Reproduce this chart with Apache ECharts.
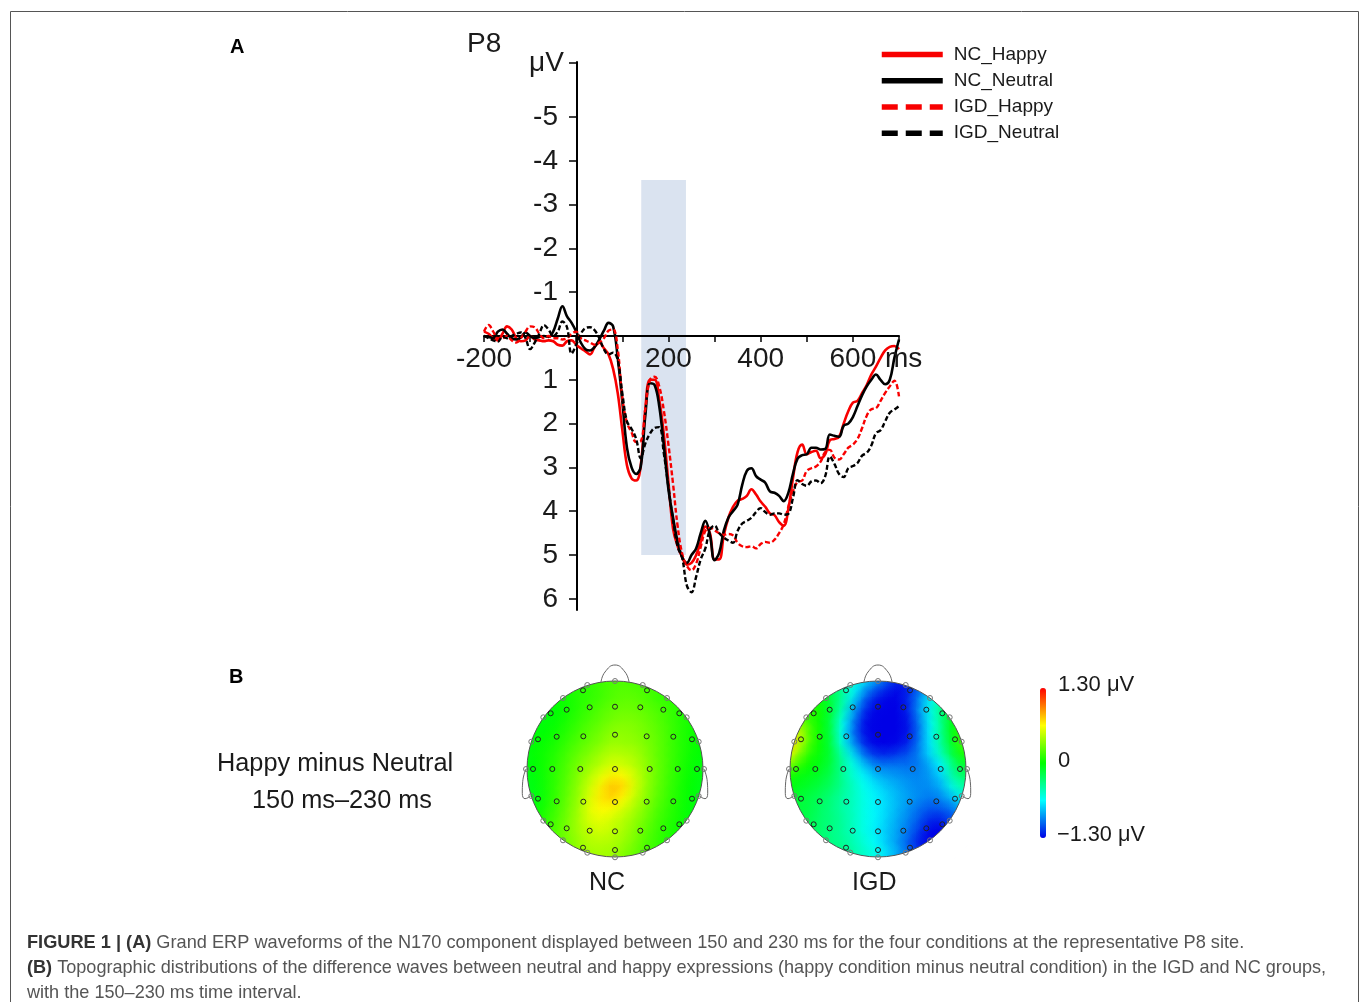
<!DOCTYPE html>
<html>
<head>
<meta charset="utf-8">
<script src="https://cdn.jsdelivr.net/npm/echarts@6/dist/echarts.min.js"></script>
<style>html,body{margin:0;padding:0;background:#fff}#c{width:1359px;height:1002px}</style>
</head>
<body>
<div id="c"></div>
<script>
const FONT = '"Liberation Sans", Arial, sans-serif';
const seriesNames = ['NC_Happy', 'NC_Neutral', 'IGD_Happy', 'IGD_Neutral'];
const startMs = -200, stepMs = 10;
const ncHappy = [-0.10,-0.05,0.05,0.10,-0.05,-0.22,-0.15,0.05,0.12,0.10,0.00,0.08,0.10,0.12,0.10,0.12,0.20,0.22,0.12,0.10,0.20,0.28,0.35,0.42,0.25,0.15,0.28,0.42,0.75,1.30,2.15,2.95,3.25,3.30,2.95,1.65,1.00,1.00,1.45,2.25,3.35,4.40,4.80,5.05,5.22,5.18,5.00,4.70,4.35,4.50,5.10,5.10,4.55,4.15,3.90,3.76,3.72,3.65,3.50,3.62,3.78,3.90,4.05,4.09,4.25,4.33,3.95,3.25,2.65,2.48,2.70,2.65,2.62,2.79,2.70,2.38,2.35,2.30,2.00,1.72,1.52,1.48,1.30,1.12,0.88,0.70,0.50,0.33,0.25,0.23,0.30];
const ncNeutral = [0.00,0.02,0.05,-0.10,-0.15,-0.05,0.05,0.08,0.03,-0.08,0.00,0.05,0.02,0.00,0.02,-0.10,-0.40,-0.68,-0.45,-0.30,-0.10,0.15,0.30,0.33,0.25,0.08,-0.12,-0.30,-0.22,0.50,1.50,2.55,3.00,3.15,2.98,1.80,1.08,1.12,1.60,2.50,3.50,4.15,4.70,5.05,5.18,5.00,4.85,4.50,4.22,4.55,5.12,4.95,4.45,4.15,4.00,3.85,3.40,3.08,3.02,3.20,3.28,3.35,3.55,3.58,3.65,3.77,3.58,3.15,2.80,2.72,2.70,2.55,2.55,2.59,2.58,2.25,2.28,2.30,2.05,2.00,1.85,1.60,1.35,1.15,1.00,0.88,1.00,1.10,1.00,0.50,0.08];
const igdHappy = [-0.10,-0.25,-0.10,0.05,0.05,0.00,0.10,0.15,0.05,-0.10,-0.22,-0.20,-0.05,0.05,0.00,0.05,0.05,0.08,0.05,-0.05,-0.10,0.05,0.10,0.15,0.20,0.15,0.05,-0.12,-0.15,0.30,1.40,1.98,2.20,2.42,2.40,1.65,1.00,0.93,1.15,1.70,2.48,3.38,4.35,4.98,5.25,5.35,5.20,4.82,4.45,4.38,4.44,4.50,4.54,4.52,4.55,4.72,4.80,4.82,4.80,4.85,4.75,4.70,4.72,4.65,4.50,4.30,3.90,3.55,3.33,3.30,3.08,3.02,2.98,2.87,2.65,2.60,2.78,2.82,2.70,2.55,2.48,2.35,2.10,1.82,1.67,1.65,1.48,1.30,1.15,1.02,1.38];
const igdNeutral = [0.00,0.05,0.10,0.13,0.02,0.05,0.00,-0.05,-0.08,0.05,0.30,0.15,-0.05,-0.25,-0.15,0.00,-0.10,-0.33,-0.20,0.40,0.20,-0.05,-0.18,-0.20,-0.13,0.05,0.30,0.42,0.38,0.55,1.31,1.95,2.12,2.35,2.79,2.45,2.23,2.10,2.08,2.68,3.45,4.20,4.81,5.08,5.70,5.85,5.50,5.10,4.85,4.42,4.33,4.50,4.60,4.67,4.72,4.45,4.28,4.22,4.15,4.02,3.93,4.02,4.08,4.05,4.05,4.08,4.06,3.70,3.29,3.38,3.42,3.32,3.30,3.36,3.20,2.75,2.92,3.15,3.22,3.02,2.97,2.90,2.73,2.67,2.50,2.22,2.15,1.95,1.75,1.68,1.60];
const seriesValues = [ncHappy, ncNeutral, igdHappy, igdNeutral];
const seriesColors = ['#f80000', '#000000', '#f80000', '#000000'];
const intervalWindow = [141, 238, -3.56, 5.0];
const xTickLabels = [-200, 200, 400, 600];
const xTicks = [-200,-100,0,100,200,300,400,500,600,700];
const yTickLabels = [-5, -4, -3, -2, -1, 1, 2, 3, 4, 5, 6];
const yTickExtra = [-6.25];
const yLimit = 6.256;

/* topographic maps: values in µV at 11-unit spacing */
const _ = null;
const topoStep = 11;
const topoCols = [-88,-77,-66,-55,-44,-33,-22,-11,0,11,22,33,44,55,66,77,88];
const topoRows = [88,77,66,55,44,33,22,11,0,-11,-22,-33,-44,-55,-66,-77,-88];
const topoNC = [
[_,_,_,_,.10,.12,.14,.16,.18,.18,.16,.14,.12,_,_,_,_],
[_,_,.02,.04,.06,.10,.12,.16,.20,.22,.20,.18,.14,.10,.08,_,_],
[_,-.02,.00,.02,.05,.10,.13,.17,.22,.24,.24,.20,.15,.12,.08,.05,_],
[_,-.03,-.02,.00,.05,.11,.16,.22,.26,.28,.27,.24,.20,.15,.10,.05,_],
[-.04,-.03,-.02,.02,.08,.14,.20,.25,.30,.32,.31,.27,.22,.16,.10,.05,.02],
[-.04,-.02,.00,.05,.11,.18,.24,.30,.36,.36,.34,.29,.24,.17,.10,.04,.02],
[-.03,.00,.03,.08,.15,.22,.28,.34,.40,.38,.37,.31,.25,.17,.10,.04,.00],
[-.03,.01,.05,.11,.19,.27,.34,.42,.47,.45,.42,.34,.25,.17,.10,.03,-.01],
[-.04,.00,.06,.13,.22,.32,.40,.48,.55,.52,.46,.36,.26,.17,.09,.02,-.03],
[-.05,-.02,.06,.14,.24,.36,.48,.60,.70,.66,.52,.38,.26,.16,.08,.01,-.04],
[-.06,-.03,.06,.15,.26,.39,.54,.70,.82,.74,.54,.37,.25,.15,.07,.00,-.05],
[-.06,-.04,.06,.16,.28,.41,.58,.72,.76,.64,.48,.35,.23,.14,.06,-.01,-.05],
[-.04,.00,.09,.18,.30,.43,.60,.66,.62,.52,.42,.31,.20,.12,.05,-.02,-.04],
[_,.03,.12,.21,.32,.44,.56,.58,.52,.45,.37,.27,.17,.10,.04,-.02,_],
[_,.06,.14,.23,.33,.43,.50,.53,.48,.42,.33,.23,.15,.08,.03,.00,_],
[_,_,.14,.23,.31,.40,.46,.46,.44,.38,.30,.20,.13,.07,.03,_,_],
[_,_,_,_,.30,.38,.42,.42,.40,.33,.26,.18,.12,_,_,_,_]
];
const topoIGD = [
[_,_,_,_,-.30,-.42,-.55,-.70,-.85,-1.05,-1.2,-1.25,-1.2,_,_,_,_],
[_,_,.02,-.08,-.22,-.42,-.62,-.90,-1.08,-1.2,-1.28,-1.2,-1.0,-.8,-.58,_,_],
[_,.18,.08,-.02,-.18,-.42,-.75,-1.08,-1.25,-1.3,-1.3,-1.18,-.92,-.62,-.38,-.15,_],
[_,.20,.12,.02,-.18,-.50,-.90,-1.2,-1.3,-1.3,-1.3,-1.2,-.88,-.60,-.28,-.05,_],
[.55,.30,.12,.00,-.22,-.62,-1.0,-1.28,-1.3,-1.3,-1.3,-1.24,-.95,-.62,-.32,-.02,.08],
[.80,.50,.18,.00,-.22,-.66,-1.05,-1.28,-1.3,-1.3,-1.3,-1.24,-.98,-.64,-.32,-.02,.15],
[.85,.50,.16,.00,-.20,-.60,-.95,-1.22,-1.3,-1.3,-1.28,-1.2,-.95,-.68,-.36,-.06,.20],
[.65,.30,.08,-.03,-.16,-.45,-.75,-1.05,-1.18,-1.2,-1.15,-1.08,-.95,-.72,-.45,-.14,.05],
[.30,.12,.00,-.06,-.18,-.40,-.60,-.82,-.98,-1.0,-1.0,-1.02,-.98,-.85,-.65,-.30,-.12],
[.05,-.03,-.07,-.12,-.22,-.38,-.55,-.68,-.82,-.88,-.92,-.95,-.96,-.90,-.75,-.42,-.25],
[-.03,-.08,-.12,-.18,-.26,-.38,-.50,-.62,-.72,-.80,-.86,-.92,-.95,-.94,-.85,-.58,-.42],
[-.10,-.14,-.18,-.24,-.32,-.42,-.50,-.60,-.68,-.76,-.84,-.90,-.96,-1.0,-.95,-.82,-.60],
[-.12,-.15,-.18,-.26,-.33,-.42,-.50,-.60,-.68,-.76,-.85,-.94,-1.04,-1.1,-1.08,-1.0,-.85],
[_,-.17,-.20,-.28,-.32,-.40,-.50,-.60,-.68,-.78,-.88,-.98,-1.1,-1.22,-1.22,-1.1,_],
[_,-.2,-.22,-.28,-.34,-.40,-.50,-.60,-.70,-.80,-.90,-1.02,-1.18,-1.3,-1.3,-1.15,_],
[_,_,-.22,-.28,-.34,-.38,-.46,-.56,-.66,-.80,-.92,-1.08,-1.25,-1.3,-1.25,_,_],
[_,_,_,_,-.30,-.35,-.44,-.52,-.60,-.74,-.88,-1.05,-1.2,_,_,_,_]
];
const topoRange = [-1.3, 1.3];
const topoColors = ['#0000e6', '#00ffff', '#00ff00', '#ffff00', '#ff0000'];
const electrodesInnerX = [-32,32,-48.3,48.3,-25.3,25.3,0,-64.3,64.3,-77,77,-58.3,58.3,-31.7,31.7,0,-82,82,-62.7,62.7,-34.7,34.7,0,-77,77,-58.3,58.3,-31.7,31.7,0,-64.3,64.3,-48.3,48.3,-25.3,25.3,0,-32,32,0];
const electrodesInnerY = [78.7,78.7,59.3,59.3,61.7,61.7,62.3,55.7,55.7,29.7,29.7,32.3,32.3,32.7,32.7,34.3,0,0,0,0,0,0,0,-29.7,-29.7,-32.3,-32.3,-32.7,-32.7,-33,-55.3,-55.3,-59.3,-59.3,-61.7,-61.7,-62.3,-78.7,-78.7,-81];
const electrodesOuterX = [0,-27.7,27.7,-52,52,-71.7,71.7,-83.7,83.7,-89,89,-83.7,83.7,-71.7,71.7,-52,52,-27.7,27.7,0];
const electrodesOuterY = [88,84,84,71,71,51.7,51.7,27.3,27.3,0,0,-27,-27,-51.7,-51.7,-71.3,-71.3,-83.7,-83.7,-88.3];
const noseX = [-14,-10,0,10,14], noseY = [87,97,104,97,87];
const earX = [89,92.3,92.7,90,84.3], earY = [0,-12.7,-24.3,-29.7,-27];

const captionLine1 = '{b|FIGURE 1 | (A)} Grand ERP waveforms of the N170 component displayed between 150 and 230 ms for the four conditions at the representative P8 site.';
const captionLine2 = '{b|(B)} Topographic distributions of the difference waves between neutral and happy expressions (happy condition minus neutral condition) in the IGD and NC groups,';
const captionLine3 = 'with the 150–230 ms time interval.';

function zip(a, b) { return a.map((v, i) => [v, b[i]]); }
function topoData(matrix) {
  const out = [];
  matrix.forEach((row, r) => row.forEach((v, c) => { if (v !== null) out.push([topoCols[c], topoRows[r], v]); }));
  return out;
}
const chart = echarts.init(document.getElementById('c'));

const lineSeries = seriesNames.map((name, i) => ({
  name, type: 'line', xAxisIndex: 0, yAxisIndex: 0,
  data: seriesValues[i].map((v, k) => [startMs + k * stepMs, v]),
  symbol: 'none', smooth: 0.4, clip: false, z: 3,
  lineStyle: { color: seriesColors[i], width: i < 2 ? 2.6 : 2.4, type: i < 2 ? 'solid' : [5, 2.5] },
  itemStyle: { color: seriesColors[i] },
  markArea: i === 0 ? { silent: true, z: 1, itemStyle: { color: '#dae3f0' },
    data: [[{ xAxis: intervalWindow[0], yAxis: intervalWindow[2] }, { xAxis: intervalWindow[1], yAxis: intervalWindow[3] }]] } : undefined
}));

function cellSeries(axis, matrix) {
  return {
    type: 'custom', xAxisIndex: axis, yAxisIndex: axis, data: topoData(matrix), z: 1, silent: true, clip: false,
    encode: { x: 0, y: 1 },
    renderItem(params, api) {
      const p = api.coord([api.value(0), api.value(1)]);
      const s = api.size([topoStep, topoStep]);
      return { type: 'rect', shape: { x: p[0] - s[0] / 2 - 0.5, y: p[1] - s[1] / 2 - 0.5, width: s[0] + 1, height: s[1] + 1 },
        style: { fill: api.visual('color') } };
    }
  };
}
function blurSeries(axis, matrix) {
  return {
    type: 'custom', xAxisIndex: axis, yAxisIndex: axis, data: topoData(matrix), z: 2, silent: true, clip: false,
    encode: { x: 0, y: 1 },
    renderItem(params, api) {
      const p = api.coord([api.value(0), api.value(1)]);
      const s = api.size([topoStep, topoStep]);
      const c = api.visual('color');
      const r = s[0] * 1.5;
      return { type: 'circle', shape: { cx: p[0], cy: p[1], r },
        style: { fill: { type: 'radial', x: 0.5, y: 0.5, r: 0.5, global: false, colorStops: [
          { offset: 0, color: echarts.color.modifyAlpha(c, 0.85) },
          { offset: 0.5, color: echarts.color.modifyAlpha(c, 0.45) },
          { offset: 1, color: echarts.color.modifyAlpha(c, 0) } ] } } };
    }
  };
}
function headSeries(axis) {
  const thin = { color: '#666', width: 1 };
  const outline = (xs, ys) => ({ type: 'line', xAxisIndex: axis, yAxisIndex: axis, data: zip(xs, ys), smooth: 0.5, symbol: 'none', clip: false, silent: true, z: 6, lineStyle: thin });
  const dots = (xs, ys, col) => ({ type: 'scatter', xAxisIndex: axis, yAxisIndex: axis, data: zip(xs, ys), symbol: 'circle', symbolSize: 5, clip: false, silent: true, z: 7,
    itemStyle: { color: 'rgba(0,0,0,0)', borderColor: col, borderWidth: 1, opacity: 1 } });
  return [
    { type: 'scatter', xAxisIndex: axis, yAxisIndex: axis, data: [[0, 0]], symbol: 'circle', symbolSize: 206, clip: false, silent: true, z: 4,
      itemStyle: { color: 'rgba(0,0,0,0)', borderColor: '#ffffff', borderWidth: 30, opacity: 1 } },
    { type: 'scatter', xAxisIndex: axis, yAxisIndex: axis, data: [[0, 0]], symbol: 'circle', symbolSize: 176, clip: false, silent: true, z: 5,
      itemStyle: { color: 'rgba(0,0,0,0)', borderColor: '#555', borderWidth: 1, opacity: 1 } },
    outline(noseX, noseY),
    outline(earX, earY),
    outline(earX.map(v => -v), earY),
    dots(electrodesInnerX, electrodesInnerY, '#222'),
    dots(electrodesOuterX, electrodesOuterY, '#777')
  ];
}
const topoSeries = [cellSeries(1, topoNC), blurSeries(1, topoNC), cellSeries(2, topoIGD), blurSeries(2, topoIGD)];
const allSeries = lineSeries.concat(topoSeries, headSeries(1), headSeries(2));

function txt(text, x, y, size, opts) {
  return { type: 'text', z: 100, x, y, style: Object.assign({ text, fontFamily: FONT, fontSize: size, fill: '#1a1a1a', verticalAlign: 'middle' }, opts || {}) };
}
const capSize = 18.1, capSize1 = 18.2;
const capStyle = { fill: '#555', rich: { b: { fontWeight: 'bold', fill: '#333', fontFamily: FONT, fontSize: capSize } } };
const capStyle1 = { fill: '#555', rich: { b: { fontWeight: 'bold', fill: '#333', fontFamily: FONT, fontSize: capSize1 } } };

const hiddenAxis = { type: 'value', min: -125, max: 125, show: false };
chart.setOption({
  animation: false,
  backgroundColor: '#fff',
  textStyle: { fontFamily: FONT },
  grid: [
    { left: 484, top: 62, width: 415, height: 548 },
    { left: 615 - 125, top: 769 - 125, width: 250, height: 250 },
    { left: 878 - 125, top: 769 - 125, width: 250, height: 250 }
  ],
  xAxis: [
    { gridIndex: 0, type: 'value', min: -200, max: 700, position: 'bottom', offset: -274, z: 2,
      axisLine: { onZero: false, lineStyle: { color: '#000', width: 2 } },
      axisTick: { show: true, length: 6, inside: false, lineStyle: { color: '#000', width: 1.5 }, customValues: xTicks },
      axisLabel: { customValues: xTickLabels, color: '#1a1a1a', fontSize: 28, margin: 9, fontFamily: FONT, showMinLabel: true, showMaxLabel: true },
      splitLine: { show: false } },
    Object.assign({ gridIndex: 1 }, hiddenAxis),
    Object.assign({ gridIndex: 2 }, hiddenAxis)
  ],
  yAxis: [
    { gridIndex: 0, type: 'value', min: -yLimit, max: yLimit, inverse: true, position: 'left', offset: -93, z: 2,
      axisLine: { onZero: false, lineStyle: { color: '#000', width: 2 } },
      axisTick: { show: true, length: 8, lineStyle: { color: '#000', width: 1.5 }, customValues: yTickExtra.concat(yTickLabels) },
      axisLabel: { customValues: yTickLabels, color: '#1a1a1a', fontSize: 28, margin: 19, fontFamily: FONT, formatter: v => String(v) },
      splitLine: { show: false } },
    Object.assign({ gridIndex: 1 }, hiddenAxis),
    Object.assign({ gridIndex: 2 }, hiddenAxis)
  ],
  legend: {
    left: 879, top: 45, orient: 'vertical', itemWidth: 61, itemHeight: 20, itemGap: 7.25, padding: 0, selectedMode: false,
    textStyle: { fontSize: 19, color: '#1a1a1a', fontFamily: FONT, padding: [0, 0, 0, 6] },
    data: seriesNames.map((name, i) => ({ name, itemStyle: { color: 'rgba(0,0,0,0)', borderWidth: 0 }, lineStyle: { width: 5.5, type: i < 2 ? 'solid' : [16, 8] } }))
  },
  visualMap: {
    type: 'continuous', min: topoRange[0], max: topoRange[1], seriesIndex: [4, 5, 6, 7], dimension: 2,
    left: 1040, top: 688, itemWidth: 6, itemHeight: 150, padding: 0, calculable: false, showLabel: false, text: null,
    inRange: { color: topoColors }, textStyle: { fontSize: 0 }, hoverLink: false
  },
  series: allSeries,
  graphic: { elements: [
    { type: 'polyline', z: 99, shape: { points: [[10.5, 1002], [10.5, 11.5], [1358.5, 11.5], [1358.5, 1002]] }, style: { stroke: '#555', lineWidth: 1, fill: null } },
    txt('A', 230, 47, 20, { fontWeight: 'bold', fill: '#000' }),
    txt('B', 229, 677, 20, { fontWeight: 'bold', fill: '#000' }),
    txt('P8', 467, 44, 28),
    txt('μV', 529, 63, 28),
    txt('ms', 885, 359, 28),
    txt('Happy minus Neutral', 217, 764, 25.3),
    txt('150 ms–230 ms', 252, 801, 25.3),
    txt('NC', 589, 883, 25),
    txt('IGD', 852, 883, 25),
    txt('1.30 μV', 1058, 685, 22),
    txt('0', 1058, 761, 22),
    txt('−1.30 μV', 1057, 835, 21.7),
    txt(captionLine1, 27, 943, capSize1, capStyle1),
    txt(captionLine2, 27, 968, capSize, capStyle),
    txt(captionLine3, 27, 993, capSize, capStyle)
  ] }
});
</script>
</body>
</html>
